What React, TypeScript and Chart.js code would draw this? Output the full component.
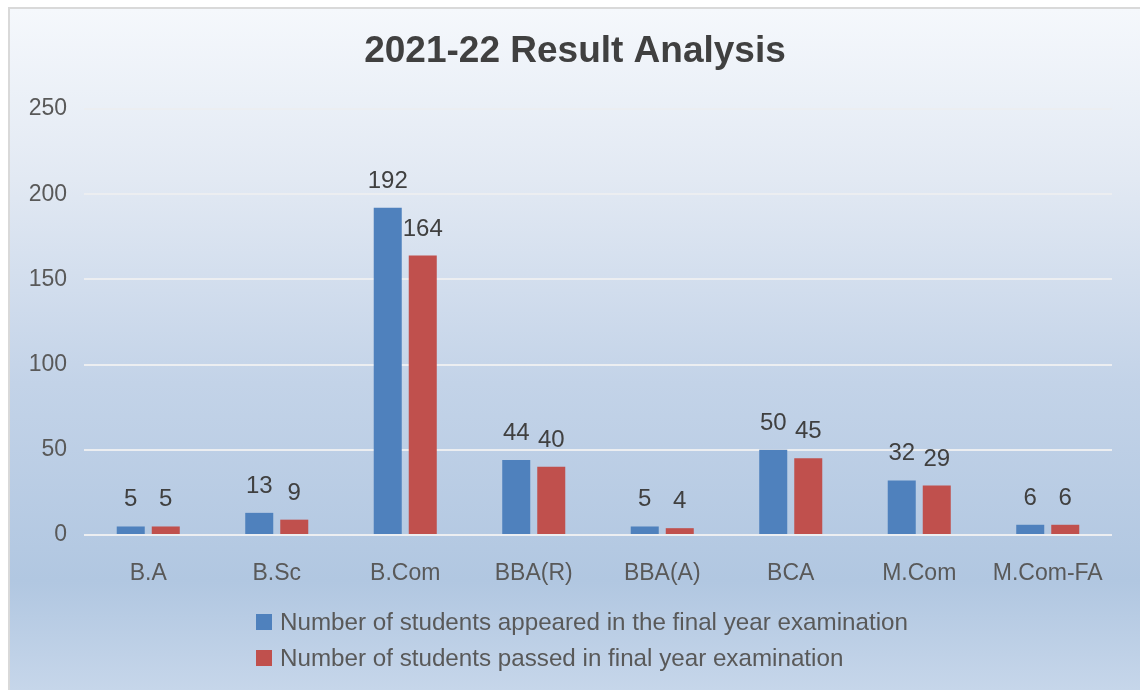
import React, { useEffect, useRef } from "react";
import { Chart, registerables } from "chart.js";

Chart.register(...registerables);

const titleText = "2021-22 Result Analysis";
const categories = ["B.A", "B.Sc", "B.Com", "BBA(R)", "BBA(A)", "BCA", "M.Com", "M.Com-FA"];
const appeared = [5, 13, 192, 44, 5, 50, 32, 6];
const passed = [5, 9, 164, 40, 4, 45, 29, 6];
const seriesNames = [
  "Number of students appeared in the final year examination",
  "Number of students passed in final year examination",
];
const seriesColors = ["#4f81bd", "#c0504d"];
const yMin = 0;
const yMax = 250;
const yStep = 50;

const FONT = "'Liberation Sans', Arial, Helvetica, sans-serif";

const W = 1130;
const H = 681;

const titlePlugin = {
  id: "customTitle",
  afterDraw(chart: any) {
    const ctx = chart.ctx;
    ctx.save();
    ctx.font = `bold 37px ${FONT}`;
    ctx.fillStyle = "#404040";
    ctx.textAlign = "center";
    ctx.textBaseline = "middle";
    ctx.fillText(titleText, W / 2, 43);
    ctx.restore();
  },
};

const dataLabelPlugin = {
  id: "dataLabels",
  afterDatasetsDraw(chart: any) {
    const ctx = chart.ctx;
    ctx.save();
    ctx.font = `24px ${FONT}`;
    ctx.fillStyle = "#404040";
    ctx.textAlign = "center";
    ctx.textBaseline = "alphabetic";
    chart.data.datasets.forEach((ds: any, i: number) => {
      const meta = chart.getDatasetMeta(i);
      meta.data.forEach((el: any, j: number) => {
        ctx.fillText(String(ds.data[j]), el.x, el.y - 20);
      });
    });
    ctx.restore();
  },
};

const legendPlugin = {
  id: "customLegend",
  afterDraw(chart: any) {
    const ctx = chart.ctx;
    ctx.save();
    ctx.font = `24.2px ${FONT}`;
    ctx.textAlign = "left";
    ctx.textBaseline = "middle";
    const boxX = 246;
    const textX = 270;
    const rows = [613, 649];
    chart.data.datasets.forEach((ds: any, i: number) => {
      const cy = rows[i];
      ctx.fillStyle = ds.backgroundColor;
      ctx.fillRect(boxX, cy - 8, 16, 16);
      ctx.fillStyle = "#595959";
      ctx.fillText(ds.label, textX, cy + 1);
    });
    ctx.restore();
  },
};

export default function App() {
  const ref = useRef<HTMLCanvasElement | null>(null);

  useEffect(() => {
    document.body.style.overflow = "hidden";
    const canvas = ref.current;
    if (!canvas) return;
    const chart = new Chart(canvas, {
      type: "bar",
      data: {
        labels: categories,
        datasets: [
          {
            label: seriesNames[0],
            data: appeared,
            backgroundColor: seriesColors[0],
            categoryPercentage: 0.545,
            barPercentage: 0.8,
          },
          {
            label: seriesNames[1],
            data: passed,
            backgroundColor: seriesColors[1],
            categoryPercentage: 0.545,
            barPercentage: 0.8,
          },
        ],
      },
      options: {
        responsive: false,
        animation: false,
        events: [],
        layout: { padding: { left: 0, right: 28, top: 100, bottom: 0 } },
        plugins: {
          legend: { display: false },
          title: { display: false },
          tooltip: { enabled: false },
        },
        scales: {
          x: {
            grid: { display: false },
            border: { display: false },
            ticks: {
              color: "#595959",
              font: { family: FONT, size: 23 },
              padding: 17,
              maxRotation: 0,
              autoSkip: false,
            },
            afterFit(scale: any) {
              scale.height = 155;
            },
          },
          y: {
            min: yMin,
            max: yMax,
            grid: {
              color: "rgba(236,238,241,1)",
              lineWidth: 2,
              drawTicks: false,
            },
            border: { display: false },
            ticks: {
              stepSize: yStep,
              color: "#595959",
              font: { family: FONT, size: 23 },
              padding: 17,
            },
            afterFit(scale: any) {
              scale.width = 74;
            },
          },
        },
      },
      plugins: [titlePlugin, dataLabelPlugin, legendPlugin],
    });
    return () => chart.destroy();
  }, []);

  return (
    <div
      style={{
        position: "absolute",
        left: 8,
        top: 7,
        width: W,
        height: H,
        borderLeft: "2px solid #d9d9d9",
        borderTop: "2px solid #d9d9d9",
        background:
          "linear-gradient(to bottom, #f5f8fc 0%, #e2e9f3 25%, #c3d3e8 55%, #b1c7e1 84%, #c6d6ea 100%)",
        overflow: "hidden",
      }}
    >
      <canvas ref={ref} width={W} height={H} style={{ display: "block", width: W, height: H }} />
    </div>
  );
}
